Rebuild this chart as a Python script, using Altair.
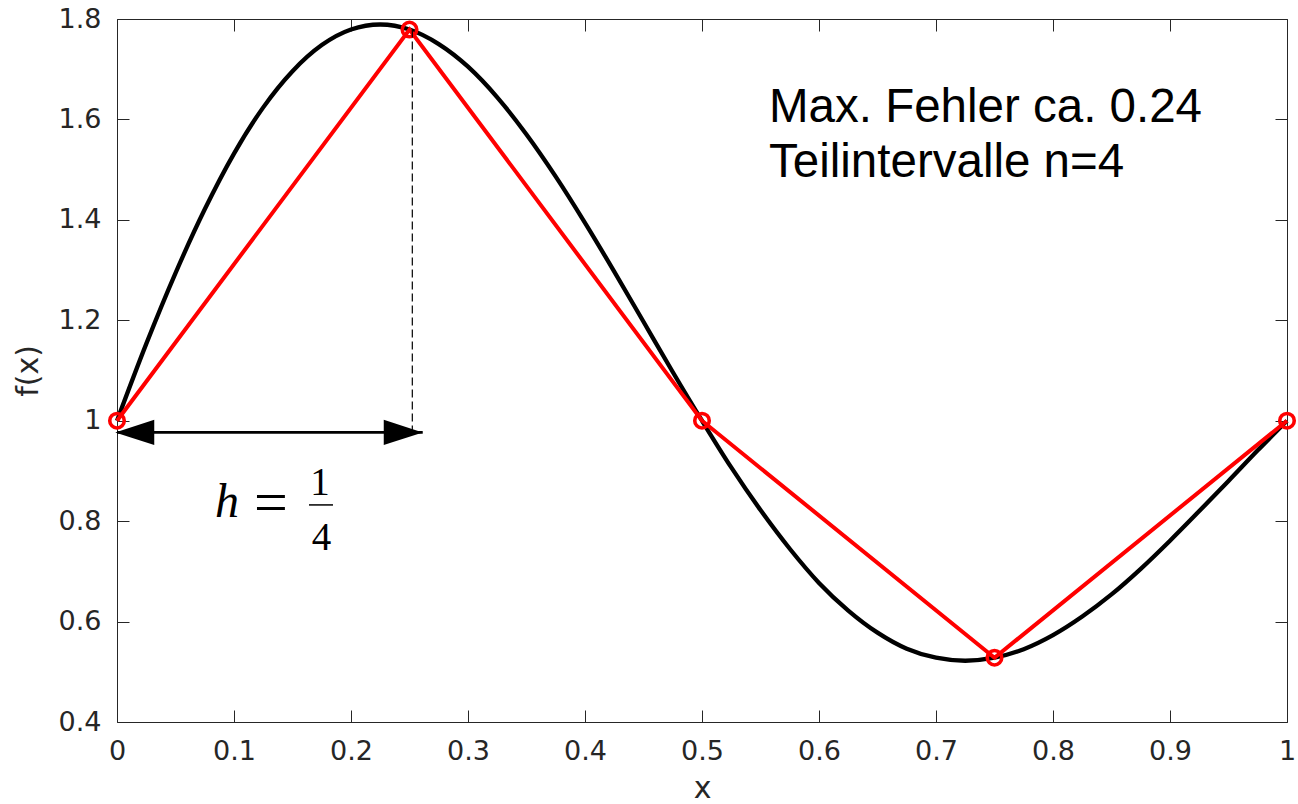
import altair as alt
import pandas as pd

# ---- data ----
x_curve = [0.000, 0.025, 0.050, 0.075, 0.100, 0.125, 0.150, 0.175, 0.200, 0.225,
           0.250, 0.275, 0.300, 0.325, 0.350, 0.375, 0.400, 0.425, 0.450, 0.475,
           0.500, 0.525, 0.550, 0.575, 0.600, 0.625, 0.650, 0.675, 0.700, 0.725,
           0.750, 0.775, 0.800, 0.825, 0.850, 0.875, 0.900, 0.925, 0.950, 0.975,
           1.000]
y_curve = [1.000, 1.153, 1.294, 1.421, 1.532, 1.624, 1.696, 1.748, 1.779, 1.789,
           1.779, 1.750, 1.705, 1.644, 1.570, 1.486, 1.394, 1.297, 1.197, 1.097,
           1.000, 0.907, 0.822, 0.745, 0.677, 0.622, 0.578, 0.546, 0.528, 0.522,
           0.528, 0.545, 0.573, 0.610, 0.654, 0.705, 0.761, 0.820, 0.880, 0.941,
           1.000]
x_nodes = [0.0, 0.25, 0.5, 0.75, 1.0]
y_nodes = [1.000, 1.779, 1.000, 0.528, 1.000]
x_ticks = [0, 0.1, 0.2, 0.3, 0.4, 0.5, 0.6, 0.7, 0.8, 0.9, 1]
y_ticks = [0.4, 0.6, 0.8, 1.0, 1.2, 1.4, 1.6, 1.8]
info_lines = ["Max. Fehler ca. 0.24", "Teilintervalle n=4"]
h_parts = ["h", "=", "1", "4"]

curve = pd.DataFrame({"x": x_curve, "y": y_curve})
nodes = pd.DataFrame({"x": x_nodes, "y": y_nodes})
one = pd.DataFrame({"k": [0]})

W, H = 1170, 703
xs = alt.Scale(domain=[0, 1], nice=False, zero=False)
ys = alt.Scale(domain=[0.4, 1.8], nice=False, zero=False)
GREY = "#262626"

common = dict(grid=False, domain=False, tickColor=GREY, tickWidth=1, tickSize=12,
              offset=-12, labelFont="DejaVu Sans", labelFontSize=27,
              labelColor=GREY, titleFont="DejaVu Sans", titleFontSize=30,
              titleFontWeight="normal", titleColor=GREY)

ax_bottom = alt.Axis(orient="bottom", values=x_ticks, format="~g", labelPadding=16,
                     labelFlush=False, labelOverlap=False, titlePadding=9, **common)
ax_left = alt.Axis(orient="left", values=y_ticks, format="~g", labelPadding=16,
                   labelFlush=False, labelOverlap=False, titlePadding=15, **common)
ax_top = alt.Axis(orient="top", values=x_ticks, labels=False, **common)
ax_right = alt.Axis(orient="right", values=y_ticks, labels=False, **common)


def X(v):
    return alt.X(datum=v, scale=xs, axis=None)


def Y(v):
    return alt.Y(datum=v, scale=ys, axis=None)


black_curve = alt.Chart(curve).mark_line(color="black", strokeWidth=4.3, interpolate="monotone").encode(
    x=alt.X("x:Q", scale=xs, axis=ax_bottom, title="x"),
    y=alt.Y("y:Q", scale=ys, axis=ax_left, title="f(x)"),
)

red_line = alt.Chart(nodes).mark_line(color="#ff0000", strokeWidth=4).encode(
    x=alt.X("x:Q", scale=xs, axis=ax_top, title=None),
    y=alt.Y("y:Q", scale=ys, axis=ax_right, title=None),
)

red_pts = alt.Chart(nodes).mark_point(shape="circle", filled=False, color="#ff0000",
                                      size=210, strokeWidth=3.6, opacity=1).encode(
    x=alt.X("x:Q", scale=xs, axis=None),
    y=alt.Y("y:Q", scale=ys, axis=None),
)

guide = alt.Chart(one).mark_rule(color="black", strokeWidth=1.2, strokeDash=[8, 4]).encode(
    x=X(0.2524), y=Y(1.779), y2=alt.Y2(datum=0.9767)
)

shaft = alt.Chart(one).mark_rule(color="black", strokeWidth=2.8).encode(
    x=X(0.0), x2=alt.X2(datum=0.2613), y=Y(0.9767)
)

head_r = alt.Chart(one).mark_point(shape="M0,0 L-1.95,-0.63 L-1.95,0.63 Z", filled=True,
                                   color="black", size=1600, opacity=1, strokeWidth=0).encode(
    x=X(0.2613), y=Y(0.9767)
)
head_l = alt.Chart(one).mark_point(shape="M0,0 L1.95,-0.63 L1.95,0.63 Z", filled=True,
                                   color="black", size=1600, opacity=1, strokeWidth=0).encode(
    x=X(-0.0015), y=Y(0.9767)
)

info1 = alt.Chart(one).mark_text(text=info_lines[0], font="Liberation Sans", fontSize=47.5,
                                 align="left", baseline="alphabetic", color="black").encode(
    x=X(0.5573), y=Y(1.5958)
)
info2 = alt.Chart(one).mark_text(text=info_lines[1], font="Liberation Sans", fontSize=47.5,
                                 align="left", baseline="alphabetic", color="black").encode(
    x=X(0.5573), y=Y(1.4863)
)

t_h = alt.Chart(one).mark_text(text=h_parts[0], font="Liberation Serif", fontStyle="italic",
                               fontSize=48, align="center", baseline="alphabetic", color="black").encode(
    x=X(0.0940), y=Y(0.8090)
)
t_eq = alt.Chart(one).mark_text(text=h_parts[1], font="Liberation Serif", fontSize=60,
                                align="center", baseline="alphabetic", color="black").encode(
    x=X(0.1316), y=Y(0.7990)
)
t_num = alt.Chart(one).mark_text(text=h_parts[2], font="Liberation Serif", fontSize=39,
                                 align="center", baseline="alphabetic", color="black").encode(
    x=X(0.1735), y=Y(0.8522)
)
t_den = alt.Chart(one).mark_text(text=h_parts[3], font="Liberation Serif", fontSize=39,
                                 align="center", baseline="alphabetic", color="black").encode(
    x=X(0.1748), y=Y(0.7426)
)
bar = alt.Chart(one).mark_rule(color="black", strokeWidth=1.5).encode(
    x=X(0.1641), x2=alt.X2(datum=0.1846), y=Y(0.8323)
)

chart = alt.layer(
    black_curve, red_line, red_pts, guide, shaft, head_r, head_l,
    info1, info2, t_h, t_eq, t_num, t_den, bar
).resolve_axis(x="independent", y="independent").properties(
    width=W, height=H,
    autosize=alt.AutoSizeParams(type="none"),
    padding={"left": 117, "top": 19, "right": 11, "bottom": 82},
    background="white",
).configure_view(stroke=GREY, strokeWidth=1)

chart.save("out.html", embed_options={"renderer": "svg", "actions": False})
